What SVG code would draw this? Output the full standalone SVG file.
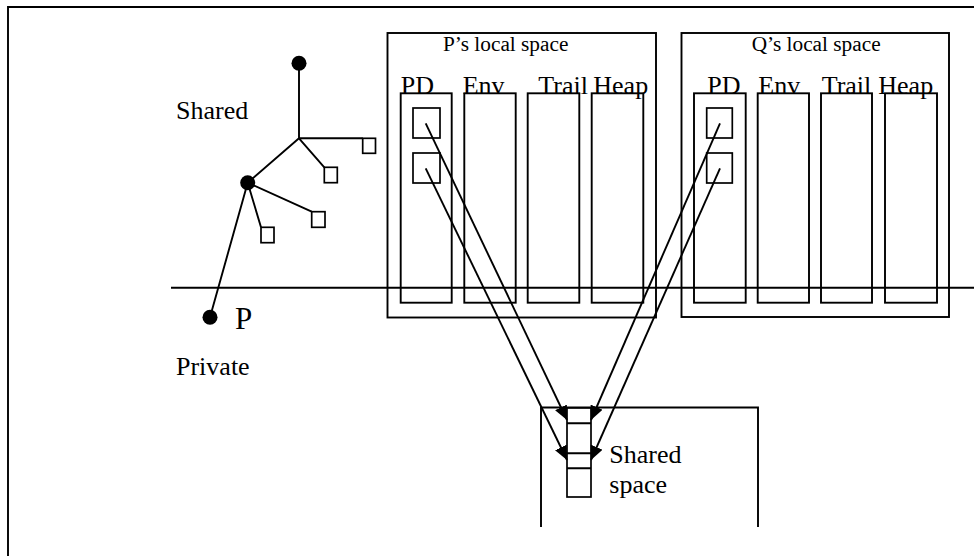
<svg xmlns="http://www.w3.org/2000/svg" width="974" height="556" viewBox="0 0 974 556">
<style>
.ln{fill:none;stroke:#000;stroke-width:1.9}
.bx{fill:#fff;stroke:#000;stroke-width:1.9}
.sq{fill:#fff;stroke:#000;stroke-width:1.7}
.t{font-family:"Liberation Serif","Times New Roman",serif;font-size:26px;fill:#000}
.ts{font-family:"Liberation Serif","Times New Roman",serif;font-size:21.3px;fill:#000}
.dot{fill:#000}
</style>
<defs>
<marker id="ah" viewBox="0 0 14 13" refX="14" refY="6.5" markerWidth="14" markerHeight="13" markerUnits="userSpaceOnUse" orient="auto">
<path d="M0,0 L14,6.5 L0,13 z" fill="#000"/>
</marker>
</defs>
<rect width="974" height="556" fill="#fff"/>
<g id="frame">
<path class="ln" d="M8,556 V7 H974"/>
</g>
<g id="p-local">
<rect class="bx" x="387.5" y="33" width="268.5" height="284.5"/>
<text class="ts" x="443" y="50.7">P’s local space</text>
<rect class="bx" x="400.7" y="93.3" width="51" height="209.4"/>
<rect class="bx" x="464.3" y="93.3" width="51.4" height="209.4"/>
<rect class="bx" x="527.7" y="93.3" width="51.6" height="209.4"/>
<rect class="bx" x="591.7" y="93.3" width="51.6" height="209.4"/>
<rect class="sq" x="413" y="108" width="27" height="30"/>
<rect class="sq" x="413" y="153" width="27" height="30"/>
<text class="t" x="400.7" y="93.5">PD</text>
<text class="t" x="462.7" y="93.5">Env</text>
<text class="t" x="538.3" y="93.5">Trail</text>
<text class="t" x="593.3" y="93.5">Heap</text>
</g>
<g id="q-local">
<rect class="bx" x="681.5" y="33" width="267.5" height="284"/>
<text class="ts" x="751.7" y="50.7">Q’s local space</text>
<rect class="bx" x="694" y="93.3" width="51.7" height="209.4"/>
<rect class="bx" x="757.7" y="93.3" width="51.3" height="209.4"/>
<rect class="bx" x="821" y="93.3" width="51" height="209.4"/>
<rect class="bx" x="885" y="93.3" width="52" height="209.4"/>
<rect class="sq" x="706.7" y="108" width="25.6" height="30"/>
<rect class="sq" x="706.7" y="153" width="25.6" height="30"/>
<text class="t" x="707.3" y="93.5">PD</text>
<text class="t" x="758.3" y="93.5">Env</text>
<text class="t" x="821.7" y="93.5">Trail</text>
<text class="t" x="878.3" y="93.5">Heap</text>
</g>
<g id="divider">
<path class="ln" d="M171,287.7 H974"/>
</g>
<g id="tree">
<path class="ln" d="M299,63.3 V138.3 H362.7 M299,138.3 L324.3,167.3 M299,138.3 L247.7,182.7 L311.7,211.7 M247.7,182.7 L261,227.3 M247.7,182.7 L210,317.3"/>
<circle class="dot" cx="299" cy="63.3" r="7.5"/>
<circle class="dot" cx="247.7" cy="182.7" r="7.5"/>
<circle class="dot" cx="210" cy="317.3" r="7.5"/>
<rect class="sq" x="362.7" y="138.3" width="12.8" height="15"/>
<rect class="sq" x="324.3" y="167.3" width="13" height="15.4"/>
<rect class="sq" x="311.7" y="211.7" width="13.3" height="15.6"/>
<rect class="sq" x="261" y="227.3" width="13" height="15.4"/>
<text class="t" x="176" y="119.3">Shared</text>
<text class="t" x="176" y="375">Private</text>
<text class="t" x="235" y="329.3" style="font-size:31px">P</text>
</g>
<g id="shared-space">
<path class="ln" d="M541,527 V407.5 H758 V527"/>
<rect class="sq" x="567" y="408" width="24" height="89"/>
<path class="ln" d="M567,423.3 H591 M567,453.3 H591 M567,468.3 H591"/>
<text class="t" x="609.3" y="463.3">Shared</text>
<text class="t" x="609.3" y="493.3">space</text>
</g>
<g id="connectors">
<path class="ln" marker-end="url(#ah)" d="M425.7,123.3 L567,420"/>
<path class="ln" marker-end="url(#ah)" d="M425.7,168.3 L567,460"/>
<path class="ln" marker-end="url(#ah)" d="M720,123.3 L591,420"/>
<path class="ln" marker-end="url(#ah)" d="M720,168.3 L591,460"/>
</g>
</svg>
